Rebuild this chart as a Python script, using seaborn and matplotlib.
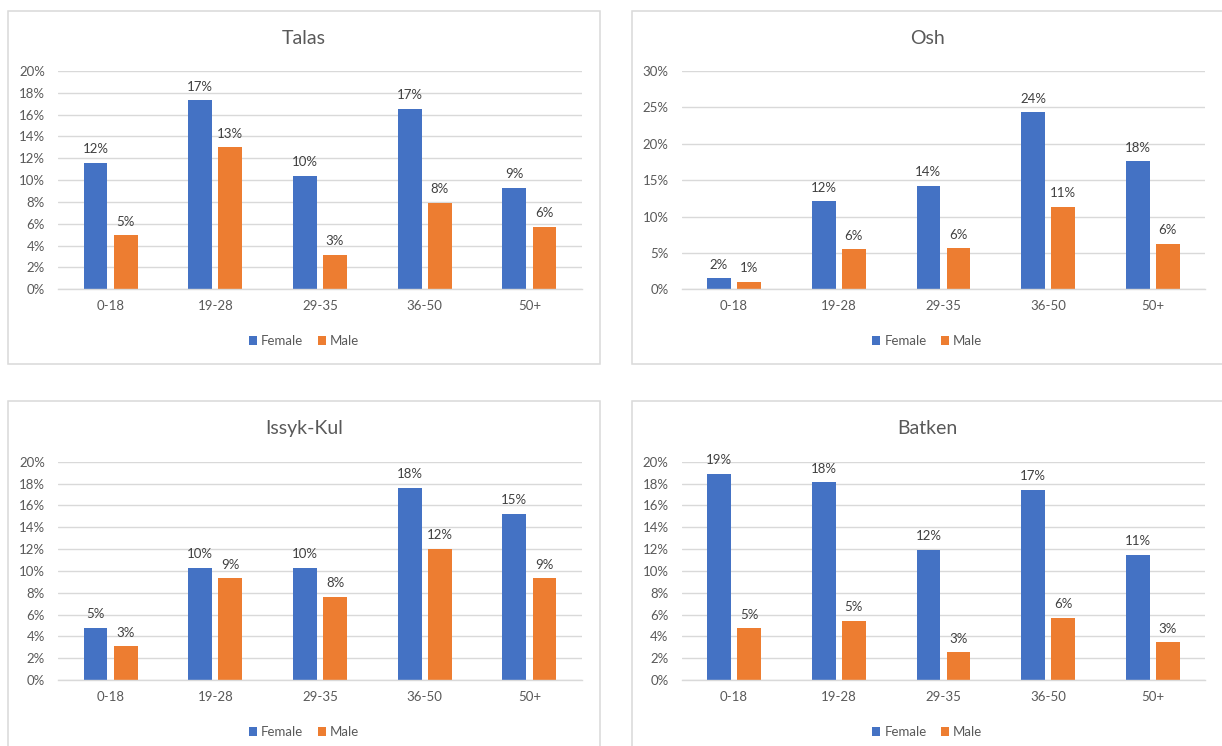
import matplotlib
matplotlib.use("Agg")
import matplotlib.pyplot as plt
from matplotlib.patches import Rectangle, Patch
from matplotlib.ticker import PercentFormatter, MultipleLocator
import seaborn as sns
import pandas as pd

# Age groups and series names
age_groups = ["0-18", "19-28", "29-35", "36-50", "50+"]
sexes = ["Female", "Male"]

# Share of respondents (%) by age group, per region
talas_female = [11.6, 17.3, 10.4, 16.55, 9.3]
talas_male = [4.95, 13.0, 3.15, 7.9, 5.7]

osh_female = [1.5, 12.1, 14.2, 24.3, 17.6]
osh_male = [1.05, 5.5, 5.65, 11.35, 6.25]

issyk_female = [4.8, 10.25, 10.25, 17.6, 15.2]
issyk_male = [3.1, 9.3, 7.65, 12.0, 9.3]

batken_female = [18.9, 18.1, 11.95, 17.45, 11.45]
batken_male = [4.75, 5.45, 2.55, 5.7, 3.45]

regions = ["Talas", "Osh", "Issyk-Kul", "Batken"]
region_values = {
    "Talas": (talas_female, talas_male),
    "Osh": (osh_female, osh_male),
    "Issyk-Kul": (issyk_female, issyk_male),
    "Batken": (batken_female, batken_male),
}
y_limits = {"Talas": (20, 2), "Osh": (30, 5), "Issyk-Kul": (20, 2), "Batken": (20, 2)}

BLUE = "#4472C4"
ORANGE = "#ED7D31"
TEXT = "#595959"
LABEL = "#404040"
GRID = "#D9D9D9"

sns.set_theme(style="white")
plt.rcParams["font.family"] = ["Lato", "DejaVu Sans"]

W, H = 1222, 746
fig = plt.figure(figsize=(W / 100, H / 100), dpi=100)
fig.patch.set_facecolor("white")

# pixel layout: plot-area corner and panel frame
layout = {
    "Talas": dict(px=58.3, py=71.0, bx0=8.3, by0=10.7, bx1=600.0, by1=364.5),
    "Osh": dict(px=681.7, py=71.0, bx0=631.7, by0=10.7, bx1=1223.0, by1=364.5),
    "Issyk-Kul": dict(px=58.3, py=461.7, bx0=8.3, by0=400.7, bx1=600.0, by1=760.0),
    "Batken": dict(px=681.7, py=461.7, bx0=631.7, by0=400.7, bx1=1223.0, by1=760.0),
}
PW, PH = 523.4, 218.3


def fx(x):
    return x / W


def fy(y):
    return 1 - y / H


for region in regions:
    L = layout[region]
    # panel frame
    fig.add_artist(Rectangle((fx(L["bx0"]), fy(L["by1"])),
                             fx(L["bx1"] - L["bx0"]), (L["by1"] - L["by0"]) / H,
                             transform=fig.transFigure, fill=False,
                             edgecolor=GRID, linewidth=1.1, clip_on=False))

    ax = fig.add_axes([fx(L["px"]), fy(L["py"] + PH), PW / W, PH / H])
    female, male = region_values[region]
    df = pd.DataFrame({
        "age": age_groups * 2,
        "sex": ["Female"] * len(age_groups) + ["Male"] * len(age_groups),
        "share": list(female) + list(male),
    })
    sns.barplot(data=df, x="age", y="share", hue="sex", order=age_groups,
                hue_order=sexes, palette=[BLUE, ORANGE], saturation=1,
                width=0.574, gap=0.21, errorbar=None, linewidth=0,
                legend=False, ax=ax)

    for container in ax.containers:
        vals = [bar.get_height() for bar in container]
        ax.bar_label(container, labels=[f"{v:.0f}%" for v in vals],
                     padding=5.5, fontsize=9.5, color=LABEL)

    ymax, step = y_limits[region]
    ax.set_ylim(0, ymax)
    ax.set_xlim(-0.5, 4.5)
    ax.yaxis.set_major_locator(MultipleLocator(step))
    ax.yaxis.set_major_formatter(PercentFormatter(xmax=100, decimals=0))
    ax.set_xlabel("")
    ax.set_ylabel("")
    ax.grid(axis="y", color=GRID, linewidth=1.0)
    ax.grid(axis="x", visible=False)
    ax.set_axisbelow(True)
    for side in ["top", "right", "left"]:
        ax.spines[side].set_visible(False)
    ax.spines["bottom"].set_color(GRID)
    ax.spines["bottom"].set_linewidth(1.0)
    ax.tick_params(axis="y", length=0, pad=9.5, labelsize=9.5, labelcolor=TEXT)
    ax.tick_params(axis="x", length=0, pad=8, labelsize=9.5, labelcolor=TEXT)
    ax.set_facecolor("none")

    cx = (L["bx0"] + L["bx1"]) / 2
    fig.text(fx(cx), fy(L["by0"] + 27.5), region, ha="center", va="center",
             fontsize=14, color=TEXT)

    handles = [Patch(facecolor=BLUE, edgecolor="none"),
               Patch(facecolor=ORANGE, edgecolor="none")]
    fig.legend(handles, sexes, loc="center", ncol=2,
               bbox_to_anchor=(fx(cx), fy(L["py"] + PH + 52)),
               bbox_transform=fig.transFigure, frameon=False,
               fontsize=9.5, labelcolor=TEXT, handlelength=0.6,
               handleheight=0.6, handletextpad=0.3, columnspacing=1.1)

fig.savefig("out.png", dpi=100, facecolor="white")
